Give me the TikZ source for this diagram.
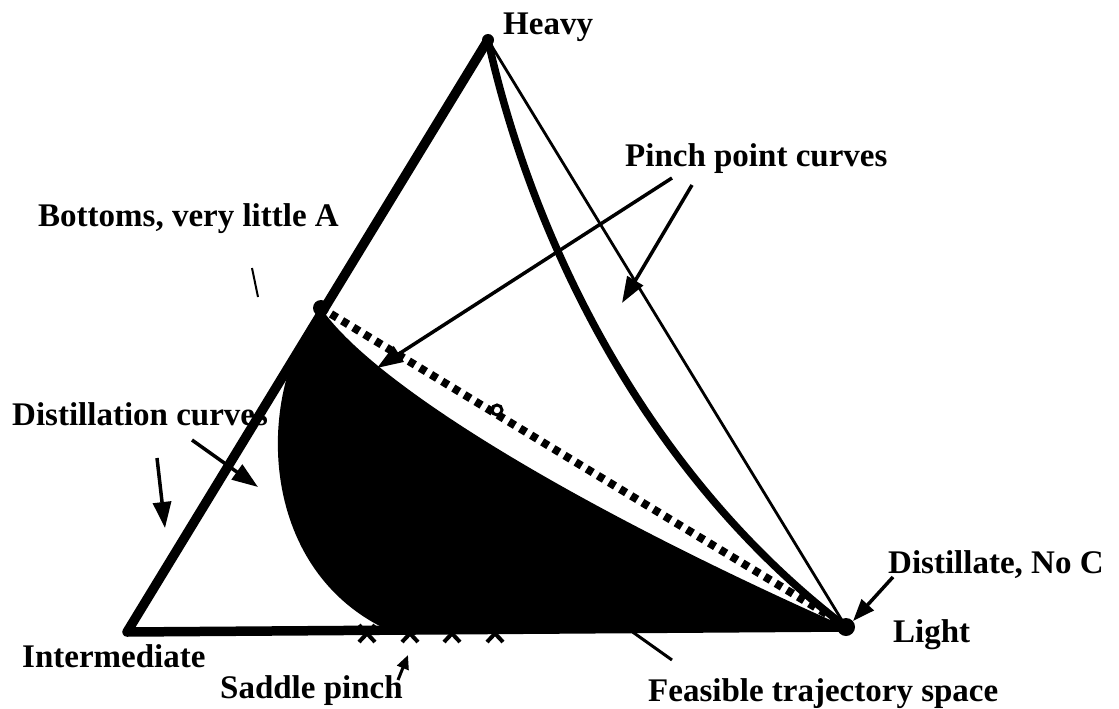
\documentclass[tikz,border=0pt]{standalone}
\usepackage{fontspec}
\setmainfont{Liberation Serif}
\usetikzlibrary{arrows.meta}
\begin{document}
\begin{tikzpicture}[x=1pt,y=-1pt,
  lbl/.style={font=\fontsize{33}{40}\selectfont\bfseries, inner sep=0pt, anchor=base west},
  thickedge/.style={line width=9.5pt, line cap=round, line join=round},
  thinedge/.style={line width=2.8pt, line cap=round},
  pinchcurve/.style={line width=7.5pt, line cap=round},
  dashline/.style={line width=8pt, dash pattern=on 7pt off 6pt},
  ptr/.style={line width=3.5pt, -{Triangle[length=26pt,width=18pt]}},
  smallptr/.style={line width=3.5pt, -{Triangle[length=22pt,width=16pt]}},
  tinyptr/.style={line width=3pt, -{Triangle[length=14pt,width=12pt]}},
  plainline/.style={line width=3pt},
  crossmark/.style={line width=4pt},
]
\useasboundingbox (0,0) rectangle (1119,709);
% vertices
\coordinate (H) at (488,40);
\coordinate (I) at (127,632);
\coordinate (L) at (846,627);
\coordinate (B) at (321,308);
\coordinate (D1) at (331,314);
\coordinate (D2) at (838,621);
\coordinate (F1) at (390,631);

% labels
\node[lbl] (heavy) at (503,35) {Heavy};
\node[lbl] (pinch) at (625,166) {Pinch point curves};
\node[lbl] (bottoms) at (38,226) {Bottoms, very little A};
\node[lbl] (distc) at (12,425) {Distillation curves};
\node[lbl] (inter) at (22,667) {Intermediate};
\node[lbl] (saddle) at (220,698) {Saddle pinch};
\node[lbl] (feas) at (648,701) {Feasible trajectory space};
\node[lbl] (light) at (893,642) {Light};
\node[lbl] (dist) at (888,573) {Distillate, No C};

% feasible region
\fill (B) .. controls (370,380) and (560,500) .. (L) -- (F1)
      .. controls (255,570) and (255,390) .. (B) -- cycle;

% triangle and curves
\draw[thickedge] (L) -- (I) -- (H);
\draw[thinedge] (H) -- (L);
\draw[pinchcurve] (H) .. controls (530,230) and (640,470) .. (L);
\draw[line width=3pt] (497,410) circle[radius=5pt];
\draw[dashline] (D1) -- (D2);

% dots
\fill (H) circle[radius=6pt];
\fill (B) circle[radius=8pt];
\fill (L) circle[radius=9pt];

% crosses (saddle pinches)
\foreach \cx in {367,410,452,495}
  \draw[crossmark] (\cx-8,625) -- (\cx+8,642) (\cx-8,642) -- (\cx+8,625);

% pointers
\coordinate (pa1) at (672,178); \coordinate (pa1t) at (377,368);
\coordinate (pa2) at (692,185); \coordinate (pa2t) at (622,303);
\coordinate (da1) at (192,440); \coordinate (da1t) at (258,487);
\coordinate (da2) at (157,458); \coordinate (da2t) at (165,528);
\coordinate (ds) at (893,577);  \coordinate (dst) at (853,621);
\coordinate (sp) at (398,680);  \coordinate (spt) at (408,655);
\coordinate (fs) at (627,628);  \coordinate (fst) at (672,660);
\coordinate (bs) at (252,268);  \coordinate (bst) at (258,297);
\draw[ptr] (pa1) -- (pa1t);
\draw[ptr] (pa2) -- (pa2t);
\draw[ptr] (da1) -- (da1t);
\draw[ptr] (da2) -- (da2t);
\draw[smallptr] (ds) -- (dst);
\draw[tinyptr] (sp) -- (spt);
\draw[plainline] (fs) -- (fst);
\draw[line width=2pt] (bs) -- (bst);
\end{tikzpicture}
\end{document}
